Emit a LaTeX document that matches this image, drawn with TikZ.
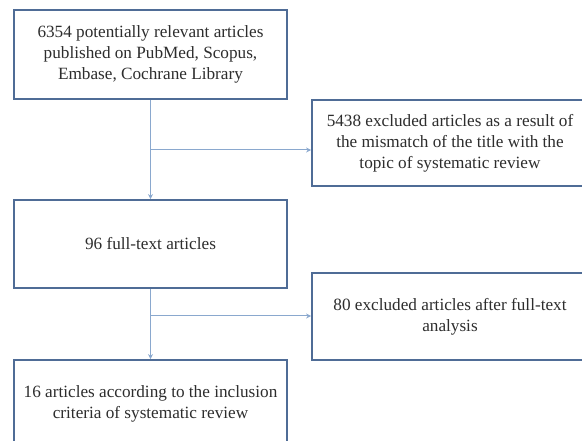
\documentclass[tikz,border=0pt]{standalone}
\usepackage{fontspec}
\setmainfont{Liberation Serif}
\usetikzlibrary{arrows.meta}
\definecolor{boxblue}{RGB}{79,108,150}
\definecolor{lineblue}{RGB}{138,168,206}
\definecolor{textgray}{RGB}{45,45,45}
\begin{document}
\begin{tikzpicture}[x=1pt,y=-1pt,
		stage/.style={draw=boxblue,line width=1.8pt,fill=white,inner sep=0pt,
			text=textgray,align=center,font=\fontsize{17.2}{21}\selectfont},
		flow/.style={draw=lineblue,line width=1pt,-{Stealth[length=5pt,width=5pt]}}]
	\clip (0,0) rectangle (582,441);

	% boxes of the left column
	\node[stage,minimum width=273pt,minimum height=89pt] (found) at (150.5,54.5)
		{6354 potentially relevant articles\\published on PubMed, Scopus,\\Embase, Cochrane Library};
	\node[stage,minimum width=273pt,minimum height=88pt] (full) at (150.5,244)
		{96 full-text articles};
	\node[stage,minimum width=273pt,minimum height=88pt] (incl) at (150.5,404)
		{16 articles according to the inclusion\\criteria of systematic review};

	% boxes of the right column
	\node[stage,minimum width=276pt,minimum height=86pt] (excl1) at (450,143)
		{5438 excluded articles as a result of\\the mismatch of the title with the\\topic of systematic review};
	\node[stage,minimum width=276pt,minimum height=87pt] (excl2) at (450,316.5)
		{80 excluded articles after full-text\\analysis};

	% connectors
	\coordinate (b1) at (found.south |- 0,150);
	\coordinate (b2) at (full.south |- 0,316);
	\draw[flow] (found.south) -- (full.north);
	\draw[flow] (b1) -- (b1 -| excl1.west);
	\draw[flow] (full.south) -- (incl.north);
	\draw[flow] (b2) -- (b2 -| excl2.west);
\end{tikzpicture}
\end{document}
